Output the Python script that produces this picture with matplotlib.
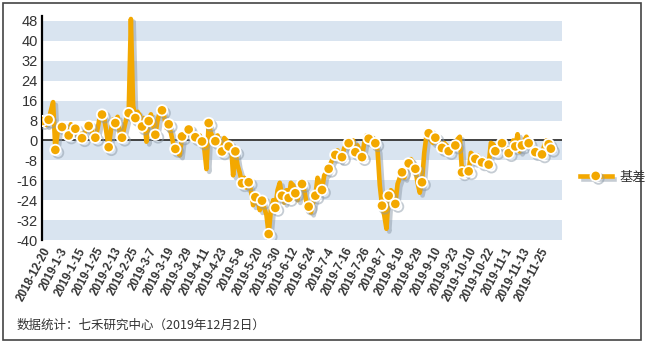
import matplotlib
matplotlib.use('Agg')
import matplotlib.pyplot as plt
import matplotlib.patheffects as pe
from matplotlib.patches import Rectangle

plt.rcParams['font.family'] = ['Liberation Sans', 'Noto Sans CJK SC', 'DejaVu Sans']

# tick labels, one every 8 trading days
tick_dates = ['2018-12-20', '2019-1-3', '2019-1-15', '2019-1-25', '2019-2-13', '2019-2-25',
              '2019-3-7', '2019-3-19', '2019-3-29', '2019-4-11', '2019-4-23', '2019-5-8',
              '2019-5-20', '2019-5-30', '2019-6-12', '2019-6-24', '2019-7-4', '2019-7-16',
              '2019-7-26', '2019-8-7', '2019-8-19', '2019-8-29', '2019-9-10', '2019-9-23',
              '2019-10-10', '2019-10-22', '2019-11-1', '2019-11-13', '2019-11-25']
tick_step = 8

# 基差, one value per trading day (2018-12-20 .. 2019-12-2)
basis = [
    7.8, 7.5, 6.2, 8.3, 12, 15.4, -3.8, 3, 6.5, 5.4,
    6.5, 3.5, 2.0, 6.5, 3, 4.7, 2, 3, 0.9, 3,
    4.5, 5.8, 5, 2, 1.1, 4.7, 9.4, 10.4, 9, 3,
    -2.7, 4, 8.5, 7.0, 9.5, 3, 1.1, 5, 9, 11,
    48.8, 14, 9, 11.5, 10, 5.6, 9, -0.5, 7.8, 10.5,
    6, 2.3, 8, 11.5, 12.1, 9.5, 5, 6.5, 3, -1,
    -3.4, -5, -6, 1.6, 3, 2, 4.4, 5, 2.5, 1.3,
    0, 2, -0.4, -3, -11.5, 7, 3, 1, -0.3, 2,
    -1, -4.4, 1, 0, -2.4, -1, -14, -4.4, -10, -13,
    -17.2, -15, -19, -16.8, -20, -26, -22.8, -24, -28, -24.2,
    -27, -30, -37.6, -28, -24, -27.1, -20, -17, -22.2, -25,
    -20, -23.1, -17, -18, -21.2, -24, -18, -17.5, -20, -25,
    -26.6, -29, -25, -22.2, -15, -18, -19.9, -14, -13, -11.4,
    -9, -7, -5.8, -4, -8, -6.7, -3, -2, -1.1, -3,
    0, -4.7, -2, -5, -6.7, -1, 2, 0.7, -1, 1,
    -1.1, -4, -18, -26.2, -30, -35.5, -22.2, -20, -21, -25.5,
    -17.5, -15, -12.8, -15, -11, -9.2, -7.5, -9, -11.4, -17,
    -21, -16.8, -5, 2, 2.9, 0, -1, 1.1, 0.5, -2,
    -3.0, -1, -2, -4.3, -3, -1, -2, 0.5, 1.5, -12.8,
    -11, -12, -12.4, -5, -6, -7.4, -6, -8, -8.8, -7.5,
    -9, -9.7, -1, -1.5, -4.3, -2, -1.5, -1.1, -2, -4,
    -5.1, -3, 0, -2.4, 2.5, -4.5, -2, 0, 1.5, -1.1,
    -2, -3.5, -4.7, -6, -5, -5.6, -2, 0, -1.5, -3.3,
]

y_ticks = [48, 40, 32, 24, 16, 8, 0, -8, -16, -24, -32, -40]
orange = '#F3A800'
band = '#D9E4F0'

fig = plt.figure(figsize=(6.45, 3.43), dpi=100)
ax = fig.add_axes([42 / 645, 1 - 240 / 343, 520 / 645, 224 / 343])

# striped background
for lo in range(-40, 48, 16):
    ax.axhspan(lo, lo + 8, color=band, lw=0, zorder=0)
ax.axhline(0, color='#333333', lw=1.3, zorder=1)

x = list(range(len(basis)))
marks = list(range(0, len(basis), 3)) + [len(basis) - 1]
ax.plot(x, basis, color=orange, lw=3.3, marker='o', markevery=marks,
        markersize=7.5, markerfacecolor=orange, markeredgecolor='white',
        markeredgewidth=1.3, label='基差', zorder=3,
        path_effects=[pe.SimpleLineShadow(offset=(2, -2), shadow_color='#8c9aa8', alpha=0.5),
                      pe.Normal()])

ax.set_xlim(0, 234)
ax.set_ylim(-40, 50)
ax.set_yticks(y_ticks)
ax.set_yticklabels([str(v) for v in y_ticks], fontsize=10.5, color='#333333')
ax.set_xticks(list(range(0, tick_step * len(tick_dates), tick_step)))
ax.set_xticklabels(tick_dates, rotation=62, ha='right', va='top', rotation_mode='anchor',
                   fontsize=8.3, fontweight='bold', color='#333333')
ax.tick_params(axis='both', length=0)
ax.tick_params(axis='x', pad=4)
ax.tick_params(axis='y', pad=3)
for s in ['top', 'right', 'bottom']:
    ax.spines[s].set_visible(False)
ax.spines['left'].set_color('black')
ax.spines['left'].set_linewidth(1.6)
ax.patch.set_alpha(0)

leg = fig.legend(loc='center left', bbox_to_anchor=(568 / 645, 1 - 177 / 343), frameon=False,
                 handlelength=2.4, handletextpad=0.6, prop={'family': ['Noto Sans CJK SC'], 'size': 9.5})
for t in leg.get_texts():
    t.set_color('#333333')

fig.text(17 / 645, 1 - 325 / 343, '数据统计：七禾研究中心（2019年12月2日）',
         family=['Noto Sans CJK SC', 'DejaVu Sans'], fontsize=9, color='#333333', va='center')

fig.patches.append(Rectangle((3 / 645, 3 / 343), 638 / 645, 337 / 343, transform=fig.transFigure,
                             fill=False, edgecolor='#444444', lw=1.2))

fig.savefig('out.png', dpi=100)
